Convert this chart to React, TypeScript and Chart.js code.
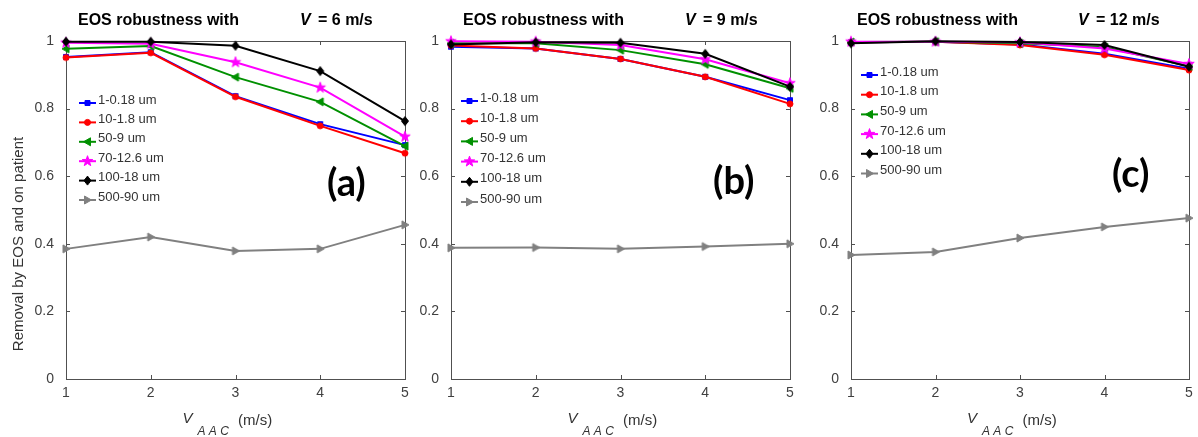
import React, { useEffect, useRef } from "react";
import { Chart, registerables } from "chart.js";

Chart.register(...registerables);

// ---------- data ----------
const xValues = [1, 2, 3, 4, 5];
const yTickValues = [0, 0.2, 0.4, 0.6, 0.8, 1];
const seriesNames = ["1-0.18 um", "10-1.8 um", "50-9 um", "70-12.6 um", "100-18 um", "500-90 um"];
const seriesColors = ["#0000ff", "#ff0000", "#009000", "#ff00ff", "#000000", "#808080"];
const markerStyles = ["square", "circle", "triLeft", "star", "diamond", "triRight"];
const speeds = ["6", "9", "12"];
const panelTags = ["(a)", "(b)", "(c)"];

// panel (a): V = 6 m/s
const panelA = [
  [0.953, 0.967, 0.837, 0.754, 0.692],
  [0.951, 0.965, 0.835, 0.749, 0.668],
  [0.977, 0.985, 0.893, 0.82, 0.689],
  [0.995, 0.992, 0.937, 0.862, 0.717],
  [0.998, 0.998, 0.986, 0.911, 0.763],
  [0.385, 0.42, 0.379, 0.385, 0.456],
];
// panel (b): V = 9 m/s
const panelB = [
  [0.983, 0.978, 0.947, 0.894, 0.825],
  [0.987, 0.978, 0.947, 0.894, 0.814],
  [0.993, 0.993, 0.973, 0.931, 0.86],
  [0.999, 0.998, 0.988, 0.946, 0.875],
  [0.99, 0.996, 0.995, 0.962, 0.865],
  [0.388, 0.389, 0.385, 0.392, 0.4],
];
// panel (c): V = 12 m/s
const panelC = [
  [0.996, 0.998, 0.99, 0.962, 0.918],
  [0.996, 0.998, 0.988, 0.959, 0.914],
  [0.997, 0.998, 0.993, 0.982, 0.925],
  [0.998, 0.998, 0.996, 0.978, 0.932],
  [0.993, 0.999, 0.997, 0.988, 0.924],
  [0.367, 0.376, 0.417, 0.45, 0.476],
];
const panelValues = [panelA, panelB, panelC];

// ---------- layout (pixels) ----------
const W = 1198;
const H = 437;
const PLOT_TOP = 41;
const PLOT_BOTTOM = 379;
const panelLayout = [
  { left: 66, right: 405, titleX: 78, vX: 300, tagX: 327, tagY: 196, legX: 79, legY: 103, legStep: 19.4 },
  { left: 451, right: 790, titleX: 463, vX: 685, tagX: 713, tagY: 194, legX: 461, legY: 101, legStep: 20.2 },
  { left: 851, right: 1189, titleX: 857, vX: 1078, tagX: 1112, tagY: 187, legX: 861, legY: 75, legStep: 19.7 },
];
const FONT = "'Liberation Sans', Arial, sans-serif";

function drawMarker(ctx: CanvasRenderingContext2D, style: string, x: number, y: number, color: string) {
  ctx.save();
  ctx.fillStyle = color;
  ctx.strokeStyle = color;
  ctx.lineWidth = 1;
  ctx.beginPath();
  if (style === "square") {
    ctx.rect(x - 2.5, y - 2.5, 5, 5);
  } else if (style === "circle") {
    ctx.arc(x, y, 3, 0, Math.PI * 2);
  } else if (style === "triLeft") {
    ctx.moveTo(x - 4, y);
    ctx.lineTo(x + 3, y - 4);
    ctx.lineTo(x + 3, y + 4);
    ctx.closePath();
  } else if (style === "triRight") {
    ctx.moveTo(x + 4, y);
    ctx.lineTo(x - 3, y - 4);
    ctx.lineTo(x - 3, y + 4);
    ctx.closePath();
  } else if (style === "diamond") {
    ctx.moveTo(x, y - 4.5);
    ctx.lineTo(x + 3.5, y);
    ctx.lineTo(x, y + 4.5);
    ctx.lineTo(x - 3.5, y);
    ctx.closePath();
  } else if (style === "star") {
    const ro = 5.5;
    const ri = ro * 0.4;
    for (let k = 0; k < 10; k++) {
      const r = k % 2 === 0 ? ro : ri;
      const a = -Math.PI / 2 + (k * Math.PI) / 5;
      const px = x + r * Math.cos(a);
      const py = y + r * Math.sin(a);
      if (k === 0) ctx.moveTo(px, py);
      else ctx.lineTo(px, py);
    }
    ctx.closePath();
  }
  ctx.fill();
  ctx.stroke();
  ctx.restore();
}

function markerCanvas(style: string, color: string): HTMLCanvasElement {
  const c = document.createElement("canvas");
  c.width = 16;
  c.height = 16;
  const g = c.getContext("2d")!;
  drawMarker(g, style, 8, 8, color);
  return c;
}

function makePlugin(p: number) {
  const lay = panelLayout[p];
  return {
    id: "matlabDecor" + p,
    beforeDatasetsDraw(chart: any) {
      const ctx: CanvasRenderingContext2D = chart.ctx;
      const { left, right, top, bottom } = chart.chartArea;
      const xs = chart.scales.x;
      const ys = chart.scales.y;
      ctx.save();
      ctx.strokeStyle = "#505050";
      ctx.lineWidth = 1;
      ctx.strokeRect(Math.round(left) + 0.5, Math.round(top) + 0.5, Math.round(right - left), Math.round(bottom - top));
      ctx.beginPath();
      const tl = 4;
      xValues.forEach((v) => {
        const px = Math.round(xs.getPixelForValue(v)) + 0.5;
        ctx.moveTo(px, bottom);
        ctx.lineTo(px, bottom - tl);
        ctx.moveTo(px, top);
        ctx.lineTo(px, top + tl);
      });
      yTickValues.forEach((v) => {
        const py = Math.round(ys.getPixelForValue(v)) + 0.5;
        ctx.moveTo(left, py);
        ctx.lineTo(left + tl, py);
        ctx.moveTo(right, py);
        ctx.lineTo(right - tl, py);
      });
      ctx.stroke();
      ctx.restore();
    },
    afterDraw(chart: any) {
      const ctx: CanvasRenderingContext2D = chart.ctx;
      const { left, right, top, bottom } = chart.chartArea;
      ctx.save();
      // title
      ctx.fillStyle = "#000";
      ctx.textBaseline = "alphabetic";
      ctx.textAlign = "left";
      ctx.font = `bold 16px ${FONT}`;
      ctx.fillText("EOS robustness with", lay.titleX, 25);
      ctx.font = `italic bold 16px ${FONT}`;
      ctx.fillText("V", lay.vX, 25);
      ctx.font = `bold 16px ${FONT}`;
      ctx.fillText(`= ${speeds[p]} m/s`, lay.vX + 18, 25);

      // legend
      ctx.font = `13px ${FONT}`;
      ctx.textBaseline = "middle";
      seriesNames.forEach((name, i) => {
        const y = lay.legY + i * lay.legStep;
        ctx.strokeStyle = seriesColors[i];
        ctx.lineWidth = 2;
        ctx.beginPath();
        ctx.moveTo(lay.legX, y);
        ctx.lineTo(lay.legX + 17, y);
        ctx.stroke();
        drawMarker(ctx, markerStyles[i], lay.legX + 8.5, y, seriesColors[i]);
        ctx.fillStyle = "#333";
        ctx.fillText(name, lay.legX + 19, y - 3);
      });

      // panel tag
      ctx.fillStyle = "#000";
      ctx.textBaseline = "alphabetic";
      ctx.font = `bold 38px Lato, 'Open Sans', sans-serif`;
      ctx.fillText(panelTags[p], lay.tagX, lay.tagY);

      // x-axis title
      const cx = (left + right) / 2;
      ctx.fillStyle = "#333";
      ctx.font = `italic 15px ${FONT}`;
      ctx.fillText("V", cx - 53, 423);
      ctx.font = `italic 12px ${FONT}`;
      ctx.fillText("A A C", cx - 38, 435);
      ctx.font = `15px ${FONT}`;
      ctx.fillText("(m/s)", cx + 2.5, 425);

      // y-axis title (first panel only)
      if (p === 0) {
        ctx.save();
        ctx.translate(23, (top + bottom) / 2 + 34);
        ctx.rotate(-Math.PI / 2);
        ctx.textAlign = "center";
        ctx.font = `15px ${FONT}`;
        ctx.fillStyle = "#333";
        ctx.fillText("Removal by EOS and on patient", 0, 0);
        ctx.restore();
      }
      ctx.restore();
    },
  };
}

function Panel({ p }: { p: number }) {
  const ref = useRef<HTMLCanvasElement>(null);
  useEffect(() => {
    const lay = panelLayout[p];
    const values = panelValues[p];
    const datasets = seriesNames.map((name, i) => {
      const img = markerCanvas(markerStyles[i], seriesColors[i]);
      return {
        label: name,
        data: xValues.map((x, k) => ({ x, y: values[i][k] })),
        borderColor: seriesColors[i],
        backgroundColor: seriesColors[i],
        borderWidth: 2,
        pointStyle: img as any,
        pointRadius: 4,
        tension: 0,
        clip: false as any,
        order: seriesNames.length - 1 - i,
      };
    });
    const zeroPad = (s: any) => {
      s.paddingLeft = 0;
      s.paddingRight = 0;
      s.paddingTop = 0;
      s.paddingBottom = 0;
    };
    const chart = new Chart(ref.current!, {
      type: "line",
      data: { datasets },
      plugins: [makePlugin(p)],
      options: {
        animation: false,
        responsive: false,
        maintainAspectRatio: false,
        events: [],
        layout: {
          padding: {
            left: lay.left - 50,
            right: W - lay.right,
            top: PLOT_TOP,
            bottom: H - PLOT_BOTTOM - 40,
          },
        },
        plugins: { legend: { display: false }, tooltip: { enabled: false }, title: { display: false } },
        scales: {
          x: {
            type: "linear",
            min: 1,
            max: 5,
            afterBuildTicks: (s: any) => {
              s.ticks = xValues.map((v) => ({ value: v }));
            },
            afterFit: (s: any) => {
              s.height = 40;
              zeroPad(s);
            },
            ticks: {
              padding: 6,
              maxRotation: 0,
              autoSkip: false,
              color: "#404040",
              font: { family: FONT, size: 14 },
            },
            grid: { display: false, drawTicks: false },
            border: { display: false },
          },
          y: {
            type: "linear",
            min: 0,
            max: 1,
            afterBuildTicks: (s: any) => {
              s.ticks = yTickValues.map((v) => ({ value: v }));
            },
            afterFit: (s: any) => {
              s.width = 50;
              zeroPad(s);
            },
            ticks: {
              padding: 12,
              color: "#404040",
              font: { family: FONT, size: 14 },
              callback: (v: any) => String(Math.round(Number(v) * 10) / 10),
            },
            grid: { display: false, drawTicks: false },
            border: { display: false },
          },
        },
      } as any,
    });
    return () => chart.destroy();
  }, [p]);
  return (
    <canvas
      ref={ref}
      width={W}
      height={H}
      style={{ position: "absolute", left: 0, top: 0, width: W, height: H, display: "block" }}
    />
  );
}

export default function App() {
  return (
    <div style={{ position: "absolute", left: 0, top: 0, width: W, height: H, background: "#fff", overflow: "hidden" }}>
      <Panel p={0} />
      <Panel p={1} />
      <Panel p={2} />
    </div>
  );
}
